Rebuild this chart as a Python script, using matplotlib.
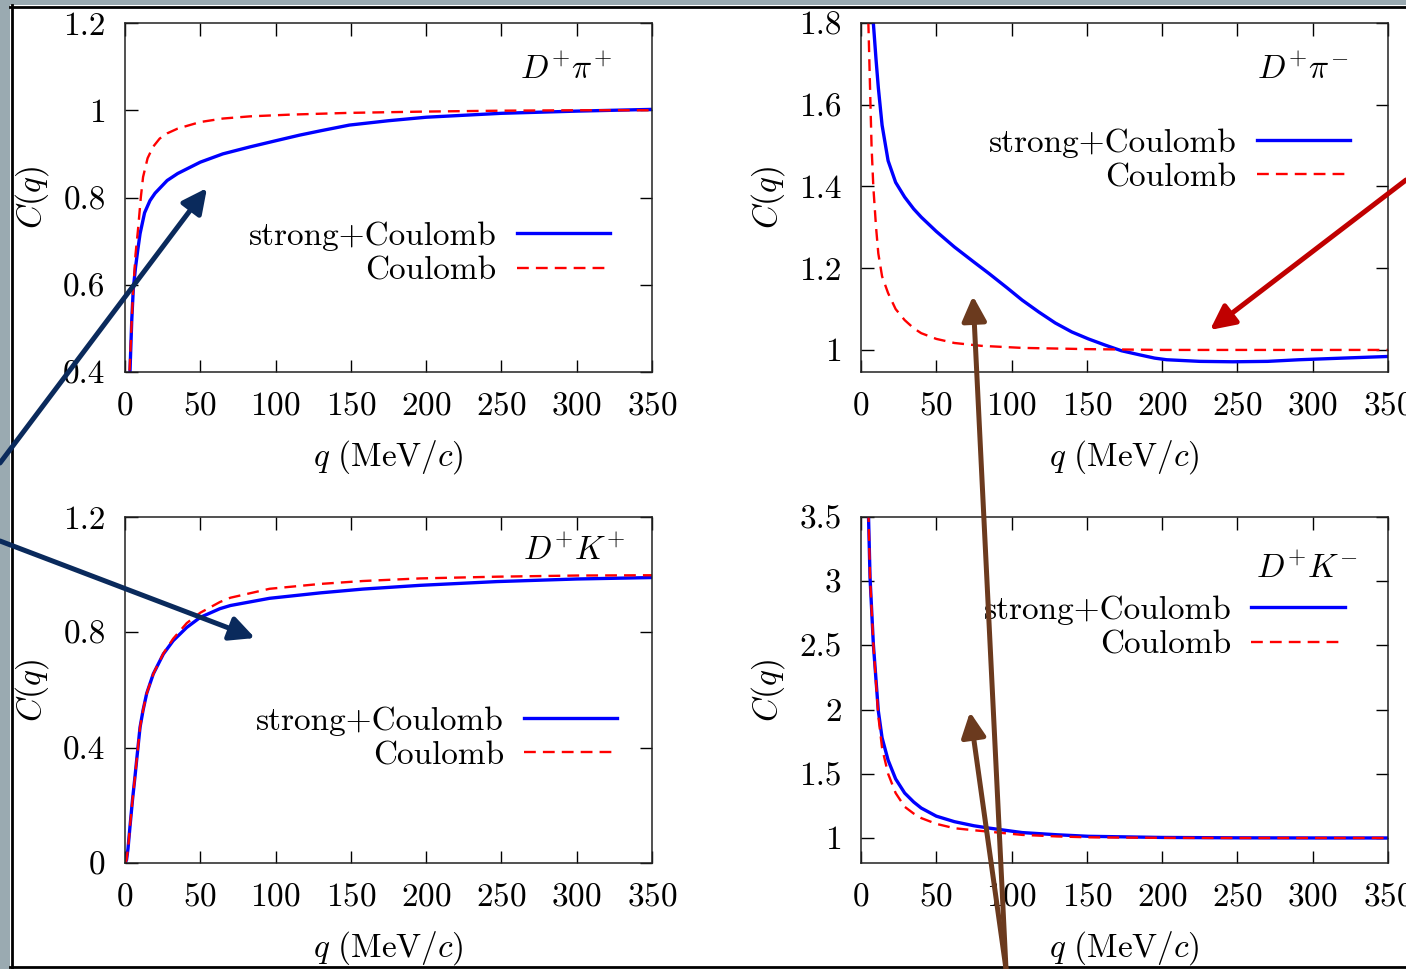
import matplotlib
matplotlib.use("Agg")
import matplotlib.pyplot as plt
from matplotlib.ticker import FuncFormatter
from matplotlib.patches import Rectangle

plt.rcParams["font.family"] = "cmr10"
plt.rcParams["mathtext.fontset"] = "cm"
plt.rcParams["axes.formatter.use_mathtext"] = True

# ---- data ----
# D+ pi+
pp_q_sc = [3.0, 3.3, 4.5, 5.5, 7, 8.5, 10, 13, 16.6, 20, 28, 35, 50, 65, 83, 100, 116, 130, 149, 175, 200, 250, 300, 350]
pp_c_sc = [0.36, 0.40, 0.52, 0.59, 0.64, 0.68, 0.717, 0.765, 0.793, 0.81, 0.839, 0.855, 0.881, 0.90, 0.916, 0.93, 0.943, 0.953, 0.966, 0.976, 0.984, 0.993, 0.998, 1.002]
pp_q_c = [2.8, 3.0, 4.5, 5.3, 7, 8.8, 10.5, 12, 15, 18.6, 23, 28, 35, 50, 65, 83, 110, 149, 200, 250, 300, 350]
pp_c_c = [0.36, 0.40, 0.52, 0.58, 0.67, 0.732, 0.80, 0.847, 0.89, 0.916, 0.935, 0.947, 0.958, 0.973, 0.981, 0.986, 0.99, 0.994, 0.997, 0.999, 1.0, 1.0]

# D+ pi-
pm_q_sc = [7.5, 8.2, 10, 11.5, 14, 18, 23, 29, 35, 40, 50, 62, 75, 85, 97, 107, 118, 129, 140, 151, 162, 173, 185, 195, 203, 225, 247, 270, 291, 320, 350]
pm_c_sc = [1.85, 1.80, 1.71, 1.642, 1.55, 1.463, 1.41, 1.374, 1.345, 1.325, 1.29, 1.252, 1.215, 1.187, 1.152, 1.122, 1.093, 1.066, 1.044, 1.027, 1.012, 0.998, 0.988, 0.98, 0.976, 0.972, 0.971, 0.972, 0.976, 0.98, 0.984]
pm_q_c = [4.6, 4.9, 6, 7, 8.2, 10, 11.5, 14, 18, 23, 29, 35, 40, 50, 62, 80, 107, 150, 200, 250, 300, 350]
pm_c_c = [1.85, 1.80, 1.642, 1.50, 1.398, 1.30, 1.236, 1.18, 1.139, 1.10, 1.073, 1.053, 1.041, 1.027, 1.017, 1.01, 1.005, 1.002, 1.0, 1.0, 1.0, 1.0]

# D+ K+
kp_q_sc = [0, 1, 2, 3.3, 5, 6.6, 8, 10, 12, 14.4, 18.8, 25.5, 32, 41, 50, 63, 70, 96, 130, 158, 196, 247, 300, 350]
kp_c_sc = [0, 0.01, 0.05, 0.126, 0.22, 0.298, 0.37, 0.471, 0.53, 0.588, 0.656, 0.725, 0.771, 0.817, 0.852, 0.882, 0.893, 0.918, 0.937, 0.950, 0.963, 0.976, 0.985, 0.99]
kp_q_c = [0, 1, 2, 3.3, 5, 6.6, 8, 10, 12, 14.4, 18.8, 25.5, 32, 41, 50, 63, 70, 96, 130, 158, 196, 247, 300, 350]
kp_c_c = [0, 0.01, 0.05, 0.126, 0.22, 0.298, 0.37, 0.471, 0.53, 0.588, 0.656, 0.727, 0.778, 0.832, 0.868, 0.905, 0.92, 0.951, 0.968, 0.978, 0.987, 0.993, 0.997, 0.998]

# D+ K-
km_q_sc = [4.5, 4.9, 6, 8.2, 11.5, 14, 18, 23, 29, 35, 40, 50, 62, 75, 85, 107, 130, 151, 200, 250, 300, 350]
km_c_sc = [3.7, 3.55, 3.03, 2.51, 1.99, 1.78, 1.606, 1.46, 1.35, 1.28, 1.233, 1.17, 1.127, 1.095, 1.077, 1.042, 1.025, 1.013, 1.004, 1.001, 1.0, 1.0]
km_q_c = [4.5, 4.9, 6, 8.2, 11.5, 14, 18, 23, 29, 35, 40, 50, 62, 75, 85, 107, 130, 151, 200, 250, 300, 350]
km_c_c = [3.7, 3.55, 3.03, 2.51, 1.95, 1.70, 1.50, 1.35, 1.243, 1.19, 1.155, 1.11, 1.076, 1.06, 1.049, 1.024, 1.012, 1.005, 1.001, 1.0, 1.0, 1.0]

titles = [r"$D^{+}\pi^{+}$", r"$D^{+}\pi^{-}$", r"$D^{+}K^{+}$", r"$D^{+}K^{-}$"]
xticks = [0, 50, 100, 150, 200, 250, 300, 350]
yticks = [[0.4, 0.6, 0.8, 1, 1.2], [1, 1.2, 1.4, 1.6, 1.8], [0, 0.4, 0.8, 1.2], [1, 1.5, 2, 2.5, 3, 3.5]]
ylims = [(0.4, 1.2), (0.946, 1.8), (0, 1.2), (0.805, 3.5)]

curves = [(pp_q_sc, pp_c_sc, pp_q_c, pp_c_c),
          (pm_q_sc, pm_c_sc, pm_q_c, pm_c_c),
          (kp_q_sc, kp_c_sc, kp_q_c, kp_c_c),
          (km_q_sc, km_c_sc, km_q_c, km_c_c)]

# layout (pixels of the 1406x969 picture)
W, H = 1406, 969
lefts = [125, 861, 125, 861]
tops = [23, 23, 517, 517]
bottoms = [372, 372, 863, 863]
leg_anchor = [(0.92, 0.34), (0.928, 0.607), (0.934, 0.361), (0.918, 0.681)]
title_pos = [(0.924, 0.868), (0.924, 0.868), (0.949, 0.905), (0.943, 0.852)]

fig = plt.figure(figsize=(W / 100, H / 100), dpi=100)
fs = 24

for i in range(4):
    ax = fig.add_axes([lefts[i] / W, 1 - bottoms[i] / H, 527 / W, (bottoms[i] - tops[i]) / H])
    qs, cs, qc, cc = curves[i]
    ax.plot(qs, cs, color="#0000ff", lw=2.4, label="strong+Coulomb")
    ax.plot(qc, cc, color="#ff0000", lw=1.7, ls=(0, (5, 3)), label="Coulomb")
    ax.set_xlim(0, 350)
    ax.set_ylim(*ylims[i])
    ax.set_xticks(xticks)
    ax.set_yticks(yticks[i])
    ax.yaxis.set_major_formatter(FuncFormatter(lambda v, p: f"{v:g}"))
    ax.tick_params(direction="in", length=9, width=1, top=True, right=True,
                   labelsize=fs, pad=14)
    for s in ax.spines.values():
        s.set_linewidth(1.1)
        s.set_color("#222222")
    ax.set_xlabel(r"$q\ (\mathrm{MeV}/c)$", fontsize=fs)
    ax.set_ylabel(r"$C(q)$", fontsize=fs)
    ax.xaxis.set_label_coords(0.5, -0.19)
    ax.yaxis.set_label_coords(-0.14, 0.5)
    ax.text(title_pos[i][0], title_pos[i][1], titles[i], transform=ax.transAxes,
            ha="right", va="center", fontsize=fs)
    ax.legend(loc="center right", bbox_to_anchor=leg_anchor[i], frameon=False,
              markerfirst=False, fontsize=fs, handlelength=2.8, handletextpad=0.6,
              labelspacing=0.15, borderpad=0, borderaxespad=0)

# overlay for slide border and annotation arrows (pixel coordinates)
ov = fig.add_axes([0, 0, 1, 1])
ov.set_xlim(0, W)
ov.set_ylim(H, 0)
ov.axis("off")
ov.patch.set_alpha(0)
gray = "#9aaab1"
ov.add_patch(Rectangle((0, 0), W, 5, color=gray, lw=0))
ov.add_patch(Rectangle((0, 0), 10, H, color=gray, lw=0))
ov.plot([10, W], [6.5, 6.5], color="black", lw=2)
ov.plot([11.5, 11.5], [5, H], color="black", lw=2)
ov.plot([10, W], [967, 967], color="black", lw=2)

arrows = [((0, 463), (207, 188), "#0a2a5c"),
          ((0, 541), (255, 638), "#0a2a5c"),
          ((1406, 180), (1210, 330), "#c00000"),
          ((1006, 969), (973, 296), "#6b3a1e"),
          ((1006, 969), (970, 712), "#6b3a1e")]
for tail, tip, col in arrows:
    ov.annotate("", xy=tip, xytext=tail, xycoords="data", textcoords="data",
                annotation_clip=False,
                arrowprops=dict(arrowstyle="-|>,head_length=0.65,head_width=0.32",
                                color=col, lw=3.6, mutation_scale=23,
                                shrinkA=0, shrinkB=0))

fig.savefig("out.png", dpi=100)
